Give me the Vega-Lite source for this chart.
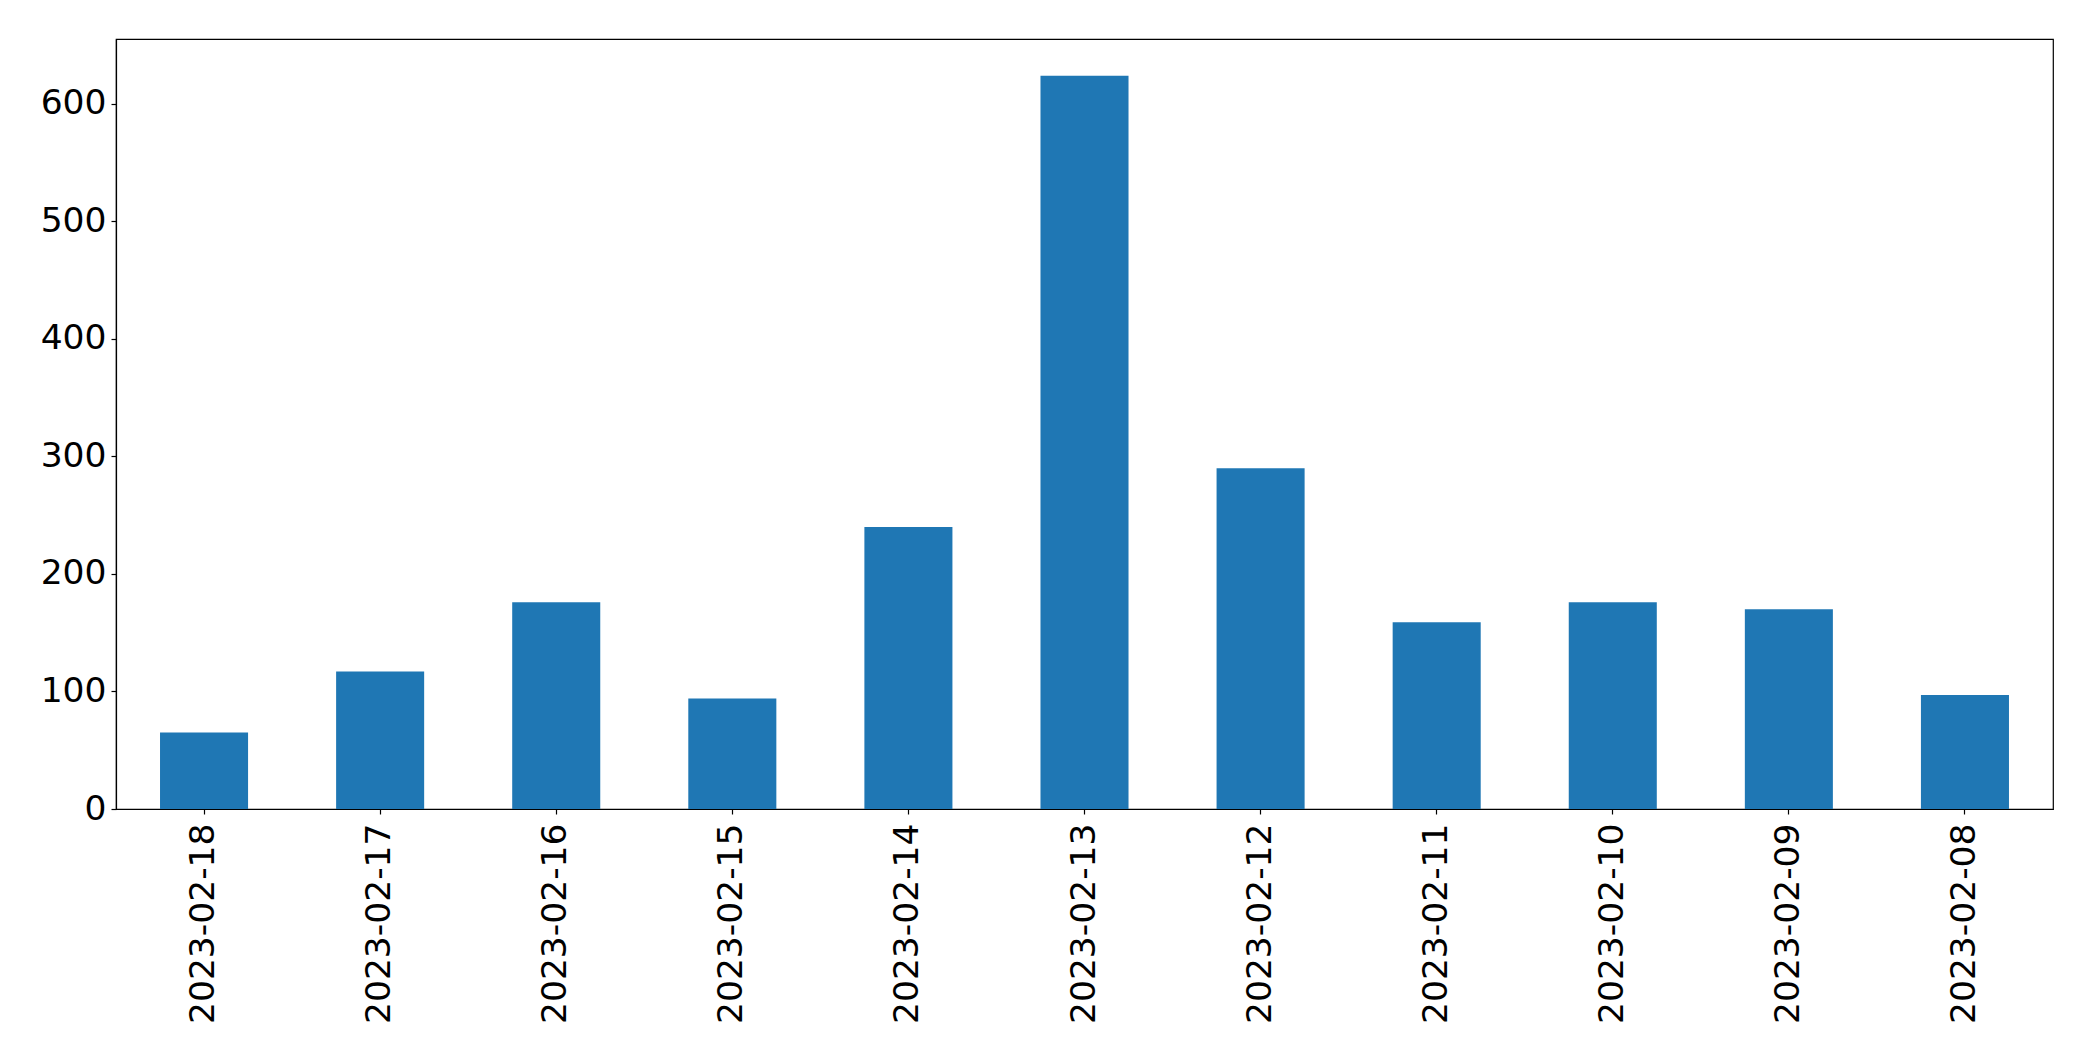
{
  "$schema": "https://vega.github.io/schema/vega-lite/v6.json",
  "width": 1937,
  "height": 770,
  "autosize": {"type": "none"},
  "padding": {"left": 116, "top": 39, "right": 40, "bottom": 252},
  "background": "white",
  "config": {
    "font": "DejaVu Sans",
    "view": {"stroke": "black", "strokeWidth": 1.2},
    "axis": {
      "labelFont": "DejaVu Sans",
      "labelFontSize": 34.5,
      "labelColor": "black",
      "labelLimit": 0,
      "domainColor": "black",
      "domainWidth": 1.2,
      "tickColor": "black",
      "tickWidth": 1.2,
      "tickSize": 5,
      "grid": false,
      "title": null
    }
  },
  "data": {
    "values": [
      {"date": "2023-02-18", "count": 65},
      {"date": "2023-02-17", "count": 117},
      {"date": "2023-02-16", "count": 176},
      {"date": "2023-02-15", "count": 94},
      {"date": "2023-02-14", "count": 240},
      {"date": "2023-02-13", "count": 624},
      {"date": "2023-02-12", "count": 290},
      {"date": "2023-02-11", "count": 159},
      {"date": "2023-02-10", "count": 176},
      {"date": "2023-02-09", "count": 170},
      {"date": "2023-02-08", "count": 97}
    ]
  },
  "mark": {"type": "bar", "color": "#1f77b4"},
  "encoding": {
    "x": {
      "field": "date",
      "type": "nominal",
      "sort": null,
      "scale": {"paddingInner": 0.5, "paddingOuter": 0.25},
      "axis": {"labelAngle": -90, "labelPadding": 9}
    },
    "y": {
      "field": "count",
      "type": "quantitative",
      "scale": {"domain": [0, 655.2], "nice": false, "zero": true},
      "axis": {"values": [0, 100, 200, 300, 400, 500, 600], "labelPadding": 5}
    }
  }
}
